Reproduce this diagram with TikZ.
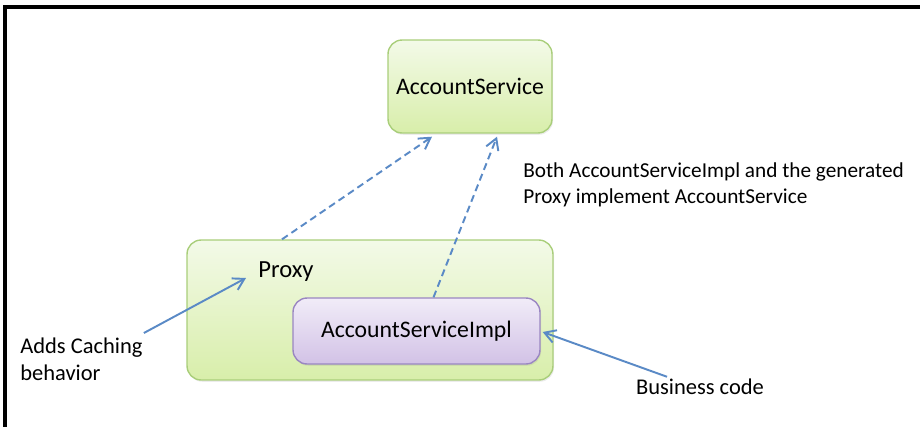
\documentclass[tikz,border=0pt]{standalone}
\usepackage{fontspec}
\setmainfont{Carlito}
\usetikzlibrary{arrows.meta,calc,shadows}

\definecolor{greenfill}{HTML}{F3FAE8}
\definecolor{greenfilldark}{HTML}{D8EEAA}
\definecolor{greenline}{HTML}{A9CE7A}
\definecolor{purplefill}{HTML}{F1ECF8}
\definecolor{purplefilldark}{HTML}{D2C2E6}
\definecolor{purpleline}{HTML}{9A86C2}
\definecolor{arrowblue}{HTML}{5A8AC6}

\begin{document}
\begin{tikzpicture}[x=0.02cm, y=-0.02cm,
      box/.style={rectangle, draw=greenline, line width=0.8pt, rounded corners=8pt, top color=greenfill, bottom color=greenfilldark, drop shadow={opacity=0.15, shadow xshift=0.6pt, shadow yshift=-1pt}, font=\fontsize{13.5}{16}\selectfont},
      implbox/.style={box, draw=purpleline, top color=purplefill, bottom color=purplefilldark},
      note/.style={align=left, inner sep=0pt, font=\fontsize{12.8}{15.2}\selectfont},
      arrow/.style={-{Straight Barb[length=2.2mm, width=2.6mm]}, line width=1.1pt, draw=arrowblue},
      dasharrow/.style={arrow, dashed, dash pattern=on 4pt off 2.5pt}
  ]
  \useasboundingbox (0,0) rectangle (920,427);

  % Frame
  \draw[line width=2pt] (920,7) -| (5,427);

  % Nodes
  \node[box, minimum width=3.28cm, minimum height=1.86cm] (svc) at (470,86.5) {AccountService};
  \node[box, minimum width=7.32cm, minimum height=2.8cm] (proxy) at (370,310) {};
  \node[anchor=west, inner sep=0pt, font=\fontsize{14}{16}\selectfont] (proxylbl) at (258,272) {Proxy};
  \node[implbox, minimum width=4.94cm, minimum height=1.32cm] (impl) at (416.5,331) {AccountServiceImpl};

  \node[note, anchor=north west] (cache) at (20,338) {Adds Caching\\behavior};
  \node[note] (biz) at (700,387) {Business code};
  \node[note, anchor=north west, font=\fontsize{12.1}{15.2}\selectfont] (both) at (523,162) {Both AccountServiceImpl and the generated\\Proxy implement AccountService};

  % Arrows
  \draw[dasharrow] ($(proxy.north)+(-88,0)$) -- ($(svc.south)+(-38,3)$);
  \draw[dasharrow] ($(impl.north)+(17,0)$) -- ($(svc.south)+(27,3)$);
  \draw[arrow] ($(cache.north east)+(1,-5)$) -- ($(proxylbl.west)+(-12,6)$);
  \draw[arrow] ($(biz.north)+(-33,-2)$) -- ($(impl.east)+(2,1)$);

\end{tikzpicture}
\end{document}
